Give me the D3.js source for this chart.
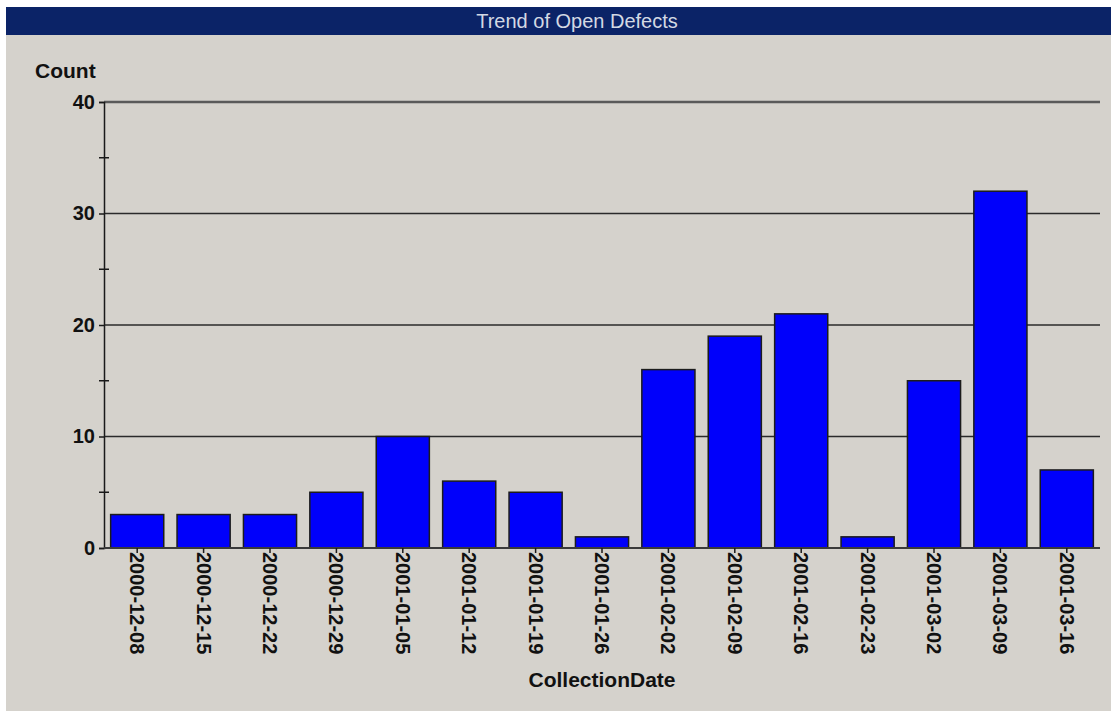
<!DOCTYPE html>
<html>
<head>
<meta charset="utf-8">
<script src="https://cdn.jsdelivr.net/npm/d3@7/dist/d3.min.js"></script>
<style>
  html, body { margin: 0; padding: 0; background: #ffffff; }
  svg { display: block; }
</style>
</head>
<body>
<svg id="chart" width="1111" height="711"></svg>
<script>
// Weekly snapshot dates and open defect counts
const collectionDates = [
  "2000-12-08", "2000-12-15", "2000-12-22", "2000-12-29", "2001-01-05",
  "2001-01-12", "2001-01-19", "2001-01-26", "2001-02-02", "2001-02-09",
  "2001-02-16", "2001-02-23", "2001-03-02", "2001-03-09", "2001-03-16"
];
const openCounts = [3, 3, 3, 5, 10, 6, 5, 1, 16, 19, 21, 1, 15, 32, 7];
const majorTicks = [0, 10, 20, 30, 40];
const minorTicks = [5, 15, 25, 35];

const svg = d3.select("#chart");
const W = 1111, H = 711;
const margin = { left: 104, right: 11, top: 102, bottom: 163 };
const FONT = "Liberation Sans, Arial, sans-serif";

// panel background and title bar
svg.append("rect").attr("x", 6).attr("y", 7).attr("width", W - 6).attr("height", H - 7)
  .attr("fill", "#d5d2cc");
svg.append("rect").attr("x", 6).attr("y", 7).attr("width", W - 6).attr("height", 28)
  .attr("fill", "#0b2367");
svg.append("text").attr("x", 577).attr("y", 28)
  .attr("text-anchor", "middle")
  .attr("font-family", FONT)
  .attr("font-size", 20)
  .attr("fill", "#d3d9e4")
  .text("Trend of Open Defects");

const x = d3.scaleBand()
  .domain(collectionDates)
  .range([margin.left, W - margin.right])
  .paddingInner(0.2)
  .paddingOuter(0.1);

const y = d3.scaleLinear()
  .domain([0, 40])
  .range([H - margin.bottom, margin.top]);

const g = svg.append("g");

// horizontal grid lines
g.selectAll("line.grid")
  .data(majorTicks.filter(d => d > 0))
  .join("line")
  .attr("class", "grid")
  .attr("x1", margin.left).attr("x2", W - margin.right)
  .attr("y1", d => y(d)).attr("y2", d => y(d))
  .attr("stroke", d => d === 40 ? "#5a5a5a" : "#2a2a2a")
  .attr("stroke-width", d => d === 40 ? 2.5 : 1.5);

// bars
g.selectAll("rect.bar")
  .data(collectionDates.map((d, i) => ({ date: d, value: openCounts[i] })))
  .join("rect")
  .attr("class", "bar")
  .attr("x", d => x(d.date))
  .attr("width", x.bandwidth())
  .attr("y", d => y(d.value))
  .attr("height", d => y(0) - y(d.value))
  .attr("fill", "#0000fb")
  .attr("stroke", "#1c1c1c")
  .attr("stroke-width", 1.5);

// y axis
const yAxis = d3.axisLeft(y).tickValues(majorTicks).tickSize(5).tickPadding(4);
const yG = svg.append("g").attr("transform", `translate(${margin.left},0)`).call(yAxis);
yG.select(".domain").attr("stroke", "#1a1a1a").attr("stroke-width", 1.5);
yG.selectAll(".tick line").attr("stroke", "#1a1a1a").attr("stroke-width", 1.5);
yG.selectAll(".tick text")
  .attr("font-family", FONT)
  .attr("font-size", 20).attr("font-weight", "bold").attr("fill", "#111");

// minor ticks crossing the y axis
svg.selectAll("line.minor")
  .data(minorTicks)
  .join("line")
  .attr("class", "minor")
  .attr("x1", margin.left - 5).attr("x2", margin.left + 5)
  .attr("y1", d => y(d)).attr("y2", d => y(d))
  .attr("stroke", "#1a1a1a").attr("stroke-width", 1.5);

// x axis with rotated date labels
const xAxis = d3.axisBottom(x).tickSize(5).tickPadding(2);
const xG = svg.append("g").attr("transform", `translate(0,${y(0)})`).call(xAxis);
xG.select(".domain").attr("stroke", "#3a3a3a").attr("stroke-width", 2).attr("d", `M${margin.left},0H${W - margin.right}`);
xG.selectAll(".tick line").attr("stroke", "#1a1a1a").attr("stroke-width", 1.5);
xG.selectAll(".tick text")
  .attr("font-family", FONT)
  .attr("font-size", 20).attr("font-weight", "bold").attr("fill", "#111")
  .attr("text-anchor", "start")
  .attr("dy", "0.35em")
  .attr("transform", "translate(0,4) rotate(90)")
  .attr("x", 0).attr("y", 0);

// axis titles
svg.append("text").attr("x", 35).attr("y", 78)
  .attr("font-family", FONT)
  .attr("font-size", 21).attr("font-weight", "bold").attr("fill", "#111")
  .text("Count");

svg.append("text").attr("x", (margin.left + W - margin.right) / 2).attr("y", 687)
  .attr("text-anchor", "middle")
  .attr("font-family", FONT)
  .attr("font-size", 21).attr("font-weight", "bold").attr("fill", "#111")
  .text("CollectionDate");
</script>
</body>
</html>
